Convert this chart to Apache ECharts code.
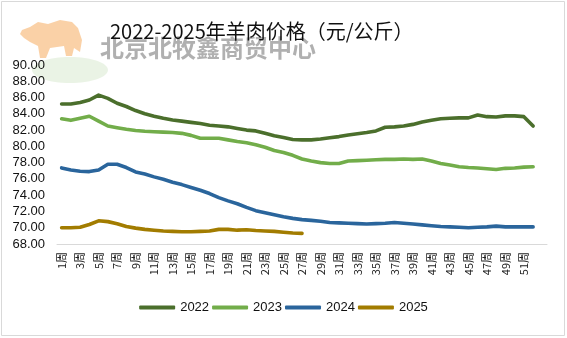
<!DOCTYPE html>
<html><head><meta charset="utf-8">
<script src="https://cdn.jsdelivr.net/npm/echarts@6/dist/echarts.min.js"></script>
<style>html,body{margin:0;padding:0;background:#fff}#c{width:567px;height:338px}</style>
</head><body><div id="c"></div>
<script>
var weeks = [];
for (var i = 1; i <= 52; i++) weeks.push(i + '周');
weeks.push('');
var yTicks = { min: 68, max: 90, interval: 2 };
var seriesNames = ['2022', '2023', '2024', '2025'];
var s2022 = [85.2,85.2,85.4,85.7,86.3,85.9,85.3,84.9,84.4,84.0,83.7,83.45,83.25,83.1,82.95,82.8,82.6,82.5,82.4,82.2,82.0,81.9,81.6,81.3,81.1,80.85,80.8,80.8,80.9,81.05,81.2,81.4,81.55,81.7,81.9,82.35,82.4,82.5,82.7,83.0,83.2,83.4,83.45,83.5,83.5,83.85,83.65,83.6,83.75,83.75,83.65,82.5];
var s2023 = [83.4,83.2,83.45,83.7,83.1,82.5,82.3,82.1,81.95,81.85,81.8,81.75,81.7,81.6,81.35,81.0,81.0,81.0,80.8,80.6,80.45,80.2,79.9,79.5,79.25,78.9,78.45,78.2,78.0,77.9,77.9,78.2,78.25,78.3,78.35,78.4,78.4,78.45,78.4,78.45,78.2,77.9,77.7,77.5,77.4,77.35,77.25,77.15,77.3,77.35,77.45,77.5];
var s2024 = [77.35,77.1,76.95,76.9,77.1,77.8,77.8,77.4,76.85,76.6,76.25,75.95,75.6,75.3,74.95,74.6,74.2,73.7,73.3,72.95,72.5,72.1,71.85,71.6,71.35,71.15,71.0,70.9,70.8,70.65,70.6,70.55,70.5,70.45,70.5,70.55,70.65,70.55,70.45,70.35,70.25,70.15,70.1,70.05,70.0,70.05,70.1,70.2,70.1,70.1,70.1,70.1];
var s2025 = [70.0,70.0,70.05,70.4,70.85,70.75,70.5,70.15,69.95,69.8,69.7,69.6,69.55,69.5,69.5,69.55,69.6,69.8,69.8,69.7,69.75,69.65,69.6,69.55,69.45,69.35,69.3];
var colors = ['#4B6F2C', '#72AD4A', '#2A659C', '#A27C00'];
var allData = [s2022, s2023, s2024, s2025];

var chart = echarts.init(document.getElementById('c'), null, {renderer: 'canvas'});
var series = seriesNames.map(function (n, k) {
  return {
    name: n, type: 'line', data: allData[k], symbol: 'none', smooth: false,
    lineStyle: {width: 3.6, color: colors[k], cap: 'round', join: 'round'},
    itemStyle: {color: colors[k]}, z: 5 + (3 - k)
  };
});
chart.setOption({
  animation: false,
  backgroundColor: '#fff',
  title: {
    text: '2022-2025年羊肉价格（元/公斤）', left: 105, top: 16,
    textStyle: {fontFamily: 'Noto Sans CJK SC', fontSize: 20, fontWeight: 'normal', color: '#111'}
  },
  graphic: [
    {type: 'rect', shape: {x: 1.5, y: 1.5, width: 563, height: 334}, style: {fill: 'none', stroke: '#d9d9d9', lineWidth: 1}, z: -10},
    {type: 'ellipse', shape: {cx: 70, cy: 70, rx: 38, ry: 13}, style: {fill: 'rgba(140,190,110,0.18)'}, z: -5},
    {type: 'polygon', shape: {points: [[22,30],[30,27],[38,22],[48,24],[60,20],[72,22],[78,28],[82,40],[80,52],[74,48],[72,56],[66,56],[64,46],[50,48],[46,58],[40,58],[38,46],[30,42],[24,38],[20,34]]}, style: {fill: 'rgba(248,190,130,0.7)'}, z: -4},
    {type: 'text', left: 100, top: 36, style: {text: '北京北牧鑫商贸中心', fontFamily: 'Noto Sans CJK SC', fontSize: 24, fontWeight: 'bold', fill: 'rgba(150,150,150,0.75)'}, z: -3}
  ],
  legend: {
    bottom: 19, left: 'center', itemWidth: 36, itemHeight: 4, itemGap: 3,
    icon: 'roundRect',
    textStyle: {fontFamily: 'Liberation Sans', fontSize: 13, color: '#111'},
    data: seriesNames
  },
  grid: {left: 57, right: 20, top: 65, bottom: 94, containLabel: false},
  xAxis: {
    type: 'category', data: weeks, boundaryGap: true,
    axisLine: {lineStyle: {color: '#d9d9d9', width: 1}},
    axisTick: {show: false},
    axisLabel: {interval: 1, rotate: 90, fontSize: 11, color: '#222', fontFamily: 'Noto Sans CJK SC', margin: 8}
  },
  yAxis: {
    type: 'value', min: yTicks.min, max: yTicks.max, interval: yTicks.interval,
    axisLine: {show: false}, axisTick: {show: false}, splitLine: {show: false},
    axisLabel: {formatter: function (v) { return v.toFixed(2); }, fontSize: 13, color: '#111', fontFamily: 'Liberation Sans', margin: 12}
  },
  series: series
});
</script></body></html>
